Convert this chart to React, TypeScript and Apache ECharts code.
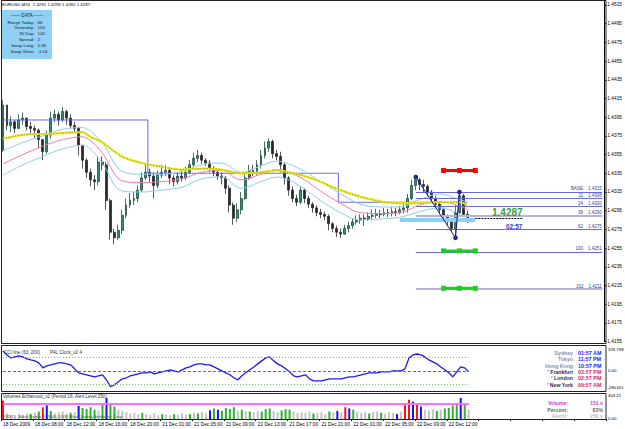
import React, { useEffect, useRef } from 'react';
import * as echarts from 'echarts';

// ---------- price data (EURUSD M15; one bar per 30 min slot) ----------
const firstOpen = 1.4360;
const closes = [
  1.4408, 1.4386, 1.4390, 1.4383, 1.4392, 1.4394, 1.4385, 1.4383, 1.4381, 1.4371,
  1.4358, 1.4376, 1.4394, 1.4398, 1.4392, 1.4401, 1.4394, 1.4386, 1.4383, 1.4365,
  1.4349, 1.4336, 1.4328, 1.4326, 1.4347, 1.4344, 1.4306, 1.4272, 1.4266, 1.4274,
  1.4290, 1.4301, 1.4306, 1.4308, 1.4317, 1.4330, 1.4336, 1.4332, 1.4322, 1.4333,
  1.4336, 1.4338, 1.4330, 1.4326, 1.4332, 1.4330, 1.4336, 1.4344, 1.4351, 1.4354,
  1.4349, 1.4346, 1.4340, 1.4336, 1.4332, 1.4330, 1.4319, 1.4301, 1.4287, 1.4296,
  1.4308, 1.4330, 1.4338, 1.4336, 1.4344, 1.4354, 1.4362, 1.4369, 1.4356, 1.4353,
  1.4344, 1.4330, 1.4317, 1.4308, 1.4304, 1.4317, 1.4308, 1.4302, 1.4298, 1.4293,
  1.4291, 1.4289, 1.4281, 1.4276, 1.4272, 1.4270, 1.4276, 1.4279, 1.4283, 1.4285,
  1.4287, 1.4286, 1.4289, 1.4290, 1.4292, 1.4291, 1.4293, 1.4292, 1.4294, 1.4293,
  1.4296, 1.4298, 1.4308, 1.4322, 1.4328, 1.4323, 1.4321, 1.4315, 1.4308, 1.4302,
  1.4296, 1.4289, 1.4283, 1.4276, 1.4293, 1.4311, 1.4291, 1.4287,
];
const highs = [
  1.4413, 1.4394, 1.4396, 1.4392, 1.4398, 1.4400, 1.4394, 1.4390, 1.4386, 1.4383,
  1.4371, 1.4381, 1.4401, 1.4403, 1.4401, 1.4406, 1.4403, 1.4398, 1.4390, 1.4385,
  1.4365, 1.4351, 1.4340, 1.4333, 1.4353, 1.4353, 1.4347, 1.4308, 1.4276, 1.4280,
  1.4296, 1.4308, 1.4314, 1.4315, 1.4322, 1.4336, 1.4344, 1.4340, 1.4336, 1.4338,
  1.4344, 1.4344, 1.4340, 1.4333, 1.4336, 1.4338, 1.4342, 1.4349, 1.4357, 1.4360,
  1.4357, 1.4351, 1.4349, 1.4343, 1.4338, 1.4336, 1.4332, 1.4322, 1.4304, 1.4303,
  1.4315, 1.4336, 1.4344, 1.4344, 1.4349, 1.4360, 1.4369, 1.4372, 1.4371, 1.4360,
  1.4358, 1.4346, 1.4332, 1.4321, 1.4312, 1.4321, 1.4319, 1.4311, 1.4304, 1.4301,
  1.4297, 1.4294, 1.4291, 1.4283, 1.4279, 1.4276, 1.4280, 1.4283, 1.4287, 1.4290,
  1.4291, 1.4291, 1.4293, 1.4296, 1.4297, 1.4296, 1.4298, 1.4297, 1.4299, 1.4298,
  1.4300, 1.4302, 1.4313, 1.4328, 1.4332, 1.4330, 1.4328, 1.4323, 1.4317, 1.4311,
  1.4304, 1.4298, 1.4291, 1.4287, 1.4301, 1.4316, 1.4313, 1.4295,
];
const lows = [
  1.4358, 1.4381, 1.4379, 1.4378, 1.4383, 1.4387, 1.4381, 1.4377, 1.4373, 1.4362,
  1.4349, 1.4356, 1.4372, 1.4390, 1.4386, 1.4390, 1.4387, 1.4383, 1.4379, 1.4354,
  1.4340, 1.4330, 1.4321, 1.4317, 1.4322, 1.4338, 1.4296, 1.4264, 1.4259, 1.4264,
  1.4270, 1.4287, 1.4298, 1.4301, 1.4304, 1.4315, 1.4328, 1.4326, 1.4308, 1.4319,
  1.4330, 1.4332, 1.4323, 1.4321, 1.4323, 1.4326, 1.4328, 1.4334, 1.4342, 1.4347,
  1.4345, 1.4343, 1.4336, 1.4332, 1.4328, 1.4323, 1.4313, 1.4293, 1.4280, 1.4283,
  1.4291, 1.4306, 1.4328, 1.4332, 1.4333, 1.4340, 1.4351, 1.4358, 1.4351, 1.4349,
  1.4336, 1.4323, 1.4311, 1.4304, 1.4300, 1.4302, 1.4303, 1.4298, 1.4293, 1.4289,
  1.4287, 1.4285, 1.4274, 1.4272, 1.4267, 1.4266, 1.4269, 1.4272, 1.4276, 1.4280,
  1.4281, 1.4279, 1.4284, 1.4285, 1.4287, 1.4287, 1.4289, 1.4288, 1.4289, 1.4289,
  1.4291, 1.4292, 1.4293, 1.4306, 1.4317, 1.4317, 1.4315, 1.4311, 1.4303, 1.4298,
  1.4291, 1.4285, 1.4279, 1.4272, 1.4266, 1.4291, 1.4289, 1.4282,
];

// moving averages / envelope, read at these bar indices
const maIdx = [0, 5, 10, 15, 20, 22, 25, 30, 35, 40, 45, 50, 55, 60, 65, 69, 72, 76, 80, 85, 90, 95, 100, 105, 110, 115, 117];
const maYellow = [1.4372, 1.4376, 1.4377, 1.4378, 1.4379, 1.4374, 1.4368, 1.4353, 1.4346, 1.4342, 1.4339, 1.4340, 1.4339, 1.4335, 1.4336, 1.4338, 1.4336, 1.4332, 1.4326, 1.4317, 1.4310, 1.4305, 1.4303, 1.4303, 1.4304, 1.4304, 1.4301];
const maPink = [1.4345, 1.4355, 1.4364, 1.4371, 1.4374, 1.4370, 1.4357, 1.4327, 1.4325, 1.4326, 1.4329, 1.4336, 1.4338, 1.4328, 1.4334, 1.4339, 1.4336, 1.4328, 1.4316, 1.4303, 1.4293, 1.4292, 1.4293, 1.4301, 1.4305, 1.4300, 1.4296];
const bandUpper = [1.4359, 1.4368, 1.4375, 1.4382, 1.4384, 1.4380, 1.4368, 1.4337, 1.4334, 1.4334, 1.4337, 1.4344, 1.4346, 1.4336, 1.4343, 1.4348, 1.4345, 1.4337, 1.4326, 1.4313, 1.4302, 1.4299, 1.4299, 1.4307, 1.4313, 1.4307, 1.4304];
const bandLower = [1.4333, 1.4344, 1.4353, 1.4361, 1.4365, 1.4361, 1.4346, 1.4316, 1.4315, 1.4317, 1.4320, 1.4329, 1.4331, 1.4319, 1.4326, 1.4331, 1.4328, 1.4318, 1.4306, 1.4293, 1.4285, 1.4286, 1.4288, 1.4294, 1.4298, 1.4292, 1.4287];

// daily range step line
const dayLevels = [1.4392, 1.4335, 1.4304];
const dayStarts = [0, 37, 85];

// zigzag & fibo
const zigIdx = [104, 114, 115];
const zigPrice = [1.4331, 1.4266, 1.4315];
const fibNames = ['BASE', '11', '24', '38', '62', '100', '162'];
const fibPrices = [1.4315, 1.4308, 1.4300, 1.4290, 1.4275, 1.4251, 1.4211];
const fibThick = [false, false, false, true, false, false, true];
const fibStart = 104;

// target markers
const targetIdx = [111, 115, 119];
const targetPrices = [1.4338, 1.4252, 1.4212];
const targetColors = ['#ff0000', '#22cc22', '#22cc22'];
const bandPrice = 1.4285;
const lastPrice = 1.4287;

// CCI
const cci = [
  297, 238, 193, 208, 223, 208, 178, 163, 149, 119,
  45, 74, 89, 104, 119, 119, 104, 89, 30, -30,
  -45, -59, -74, -89, -74, -59, -134, -238, -208, -163,
  -119, -104, -74, -59, -45, -30, -30, -15, -45, -30,
  -15, 0, 15, 0, -15, 15, 45, 59, 89, 104,
  104, 89, 89, 59, 30, 0, -30, -59, -104, -134,
  -74, -30, 15, 59, 104, 149, 193, 208, 149, 104,
  74, 30, -15, -74, -89, -74, -59, -119, -149, -149,
  -149, -134, -119, -119, -119, -119, -104, -89, -89, -74,
  -59, -45, -30, -30, -30, -15, -15, -15, 0, 0,
  0, 30, 193, 238, 252, 238, 208, 163, 134, 104,
  59, 15, -30, -89, -15, 59, 45, -15,
];
const cciMax = 326.798;
const cciMin = -286.651;
const cciLevels = [200, 0, -200];

// Volumes
const volumes = [
  300, 90, 70, 60, 80, 70, 90, 80, 100, 120,
  190, 220, 130, 100, 110, 120, 90, 100, 110, 210,
  180, 160, 190, 150, 140, 230, 340, 260, 200, 150,
  130, 110, 90, 100, 80, 100, 80, 70, 90, 60,
  80, 70, 60, 80, 70, 90, 70, 80, 100, 90,
  110, 90, 140, 170, 150, 130, 180, 160, 190, 140,
  150, 130, 120, 110, 130, 120, 160, 170, 130, 110,
  140, 160, 150, 120, 100, 110, 100, 120, 90, 100,
  110, 80, 120, 100, 130, 110, 190, 170, 150, 120,
  100, 110, 90, 110, 120, 100, 90, 110, 100, 80,
  120, 220, 310, 280, 250, 200, 150, 140, 160, 130,
  150, 170, 180, 220, 250, 340, 260, 150,
];
const volKinds = [
  'r', 's', 's', 's', 's', 's', 's', 'g', 's', 'g',
  'r', 'b', 'g', 's', 's', 's', 's', 'g', 's', 'b',
  'g', 'g', 'g', 'g', 's', 'g', 'b', 'g', 'g', 's',
  's', 's', 's', 's', 's', 'g', 's', 's', 's', 's',
  'g', 's', 's', 'g', 's', 's', 's', 'g', 's', 'g',
  's', 's', 'b', 'g', 'b', 'g', 'g', 'g', 'g', 's',
  'g', 's', 'g', 's', 's', 'g', 'g', 'g', 's', 's',
  'g', 'g', 'g', 's', 's', 's', 's', 's', 'g', 's',
  's', 's', 'g', 's', 'b', 's', 'r', 'b', 'g', 's',
  's', 's', 'g', 's', 's', 'g', 's', 's', 's', 'b',
  's', 'r', 'r', 'b', 'r', 'b', 's', 's', 's', 'g',
  's', 'g', 'g', 'g', 'g', 'b', 'g', 's',
];
const volMax = 403.21;
const volAlert = 250;

// time axis labels (every 8 slots)
const timeLabels = [
  '18 Dec 2009', '18 Dec 08:00', '18 Dec 12:00', '18 Dec 16:00', '18 Dec 20:00',
  '21 Dec 01:00', '21 Dec 05:00', '21 Dec 09:00', '21 Dec 13:00', '21 Dec 17:00',
  '21 Dec 21:00', '22 Dec 01:00', '22 Dec 05:00', '22 Dec 09:00', '22 Dec 12:00',
];
const labelStep = 8;
const TOTAL = 152;

// ---------- layout ----------
const FONT = '"Liberation Sans", Arial, sans-serif';
const MAIN = { left: 1, top: 0, width: 605, height: 341.6 };
const CCIG = { left: 1, top: 349, width: 605, height: 41 };
const VOLG = { left: 1, top: 394, width: 605, height: 25 };

const N = closes.length;
const cats = Array.from({ length: TOTAL }, (_, i) => String(i));
const timeCats = Array.from({ length: TOTAL }, (_, i) =>
  i % labelStep === 0 && timeLabels[i / labelStep] ? timeLabels[i / labelStep] : ''
);

const candleData = closes.map((c, i) => {
  const o = i === 0 ? firstOpen : closes[i - 1];
  return [o, c, Math.min(lows[i], o, c), Math.max(highs[i], o, c)];
});
const sparse = (vals: number[]) => {
  const a: (number | null)[] = new Array(N).fill(null);
  maIdx.forEach((ix, k) => (a[ix] = vals[k]));
  return a;
};
const dayLine = closes.map((_, i) => {
  let lv = dayLevels[0];
  dayStarts.forEach((s, k) => {
    if (i >= s) lv = dayLevels[k];
  });
  return lv;
});
const zigData: (number | null)[] = new Array(N).fill(null);
zigIdx.forEach((ix, k) => (zigData[ix] = zigPrice[k]));

const volColorMap: Record<string, string> = { s: '#c4c4c4', g: '#2fb02f', b: '#1010ff', r: '#ff1010' };

function txt(x: number, y: number, text: string, o: any = {}) {
  return {
    type: 'text',
    x,
    y,
    silent: true,
    z: 100,
    style: {
      text,
      fill: o.fill || '#000',
      fontSize: o.size || 5,
      fontFamily: FONT,
      fontWeight: o.bold ? 'bold' : 'normal',
      align: o.align || 'left',
      verticalAlign: 'middle',
    },
  };
}

function buildOption(): any {
  const series: any[] = [];

  series.push({
    type: 'candlestick',
    xAxisIndex: 0,
    yAxisIndex: 0,
    data: candleData,
    barWidth: 2.4,
    itemStyle: {
      color: '#2f8f80',
      color0: '#2b2b2b',
      borderColor: '#1e4a44',
      borderColor0: '#2b2b2b',
      borderWidth: 0.8,
    },
    markLine: {
      silent: true,
      symbol: ['none', 'none'],
      animation: false,
      data: [
        {
          yAxis: lastPrice,
          lineStyle: { opacity: 0 },
          label: {
            show: true,
            position: 'end',
            distance: 1,
            formatter: lastPrice.toFixed(4),
            backgroundColor: '#000',
            color: '#fff',
            fontSize: 5,
            fontFamily: FONT,
            padding: [1, 2, 1, 2],
          },
        },
      ],
    },
  });

  series.push({
    type: 'line',
    data: dayLine,
    step: 'middle',
    symbol: 'none',
    lineStyle: { color: '#6464f0', width: 1 },
    z: 3,
  });

  const maLine = (data: any, color: string, width: number, type: any = 'solid') => ({
    type: 'line',
    data,
    connectNulls: true,
    smooth: 0.35,
    symbol: 'none',
    lineStyle: { color, width, type },
    z: 4,
  });
  series.push(maLine(sparse(bandUpper), '#8ccdf5', 1));
  series.push(maLine(sparse(bandLower), '#8ccdf5', 1));
  series.push(maLine(sparse(maPink), '#f07aa8', 1));
  series.push(maLine(sparse(maYellow), '#eeea10', 2.2));
  series.push(maLine(sparse(maYellow), '#8a8a20', 1, [1, 2]));

  // zigzag + fibo lines
  series.push({
    type: 'line',
    data: zigData,
    connectNulls: true,
    symbol: 'emptyCircle',
    showAllSymbol: true,
    symbolSize: 2.6,
    lineStyle: { color: '#1c1c8a', width: 1 },
    itemStyle: { color: '#1c1c8a', borderWidth: 0.8 },
    z: 6,
    markLine: {
      silent: true,
      symbol: ['none', 'none'],
      animation: false,
      data: [
        ...fibPrices.map((p, k) => [
          {
            coord: [fibStart, p],
            lineStyle: {
              color: fibThick[k] ? '#b4b4dc' : '#6a6ad6',
              width: fibThick[k] ? 2 : 1,
              type: 'solid',
            },
            label: {
              show: true,
              position: 'insideEndTop',
              distance: 0.5,
              formatter: fibNames[k] + '    ' + p.toFixed(4),
              fontSize: 4.5,
              fontFamily: FONT,
              color: '#3a3a9a',
            },
          },
          { coord: [TOTAL - 1, p] },
        ]),
        [
          { coord: [100, bandPrice], lineStyle: { color: '#8ccff5', width: 4, type: 'solid' }, label: { show: false } },
          { coord: [119, bandPrice] },
        ],
        [
          { coord: [119, lastPrice], lineStyle: { color: '#000', width: 1, type: [2, 1] }, label: { show: false } },
          { coord: [131, lastPrice] },
        ],
      ],
    },
  });

  targetPrices.forEach((p, k) => {
    const d: (number | null)[] = new Array(targetIdx[targetIdx.length - 1] + 1).fill(null);
    targetIdx.forEach((ix) => (d[ix] = p));
    series.push({
      type: 'line',
      data: d,
      connectNulls: true,
      symbol: 'rect',
      showAllSymbol: true,
      symbolSize: [5, 5],
      lineStyle: { color: targetColors[k], width: 3 },
      itemStyle: { color: targetColors[k] },
      z: 7,
    });
  });

  // CCI
  series.push({
    type: 'line',
    xAxisIndex: 1,
    yAxisIndex: 1,
    data: cci,
    symbol: 'none',
    lineStyle: { color: '#1a1aff', width: 1.3 },
    markLine: {
      silent: true,
      symbol: ['none', 'none'],
      animation: false,
      label: { show: false },
      data: cciLevels.map((lv, k) => [
        {
          coord: [0, lv],
          lineStyle: {
            color: k === 0 ? '#e07a7a' : k === 1 ? '#5c5ce0' : '#5cc85c',
            width: 1,
            type: k === 1 ? [3, 2] : [1, 2],
          },
        },
        { coord: [N - 1, lv] },
      ]),
    },
  });

  // Volumes
  series.push({
    type: 'bar',
    xAxisIndex: 2,
    yAxisIndex: 2,
    barWidth: 2,
    data: volumes.map((v, i) => ({ value: v, itemStyle: { color: volColorMap[volKinds[i]] } })),
    markLine: {
      silent: true,
      symbol: ['none', 'none'],
      animation: false,
      label: { show: false },
      data: [[{ coord: [0, volAlert], lineStyle: { color: '#ff6cff', width: 2, type: 'solid' } }, { coord: [N - 1, volAlert] }]],
    },
  });

  const hiddenX = (gi: number, data: string[]) => ({
    type: 'category',
    gridIndex: gi,
    data,
    boundaryGap: true,
    axisLine: { show: false },
    axisTick: { show: false },
    axisLabel: { show: false },
    splitLine: { show: false },
  });

  const graphic: any[] = [];
  // panel frames
  const frame = (y0: number, y1: number) => ({
    type: 'rect',
    silent: true,
    z: 90,
    shape: { x: 1.5, y: y0 + 0.5, width: 604.5, height: y1 - y0 },
    style: { fill: 'none', stroke: '#222', lineWidth: 1 },
  });
  graphic.push(frame(0, 343));
  graphic.push(frame(345, 391));
  graphic.push(frame(393, 419));

  // title
  graphic.push(txt(2, 4.5, 'EURUSD,M15  1.4291 1.4295 1.4282 1.4287', { size: 4.4 }));
  // data box
  graphic.push({
    type: 'rect',
    silent: true,
    z: 95,
    shape: { x: 2, y: 10, width: 50, height: 49 },
    style: { fill: '#8fd1f2' },
  });
  graphic.push(txt(27, 15.5, '------ DATA ------', { size: 4.6, align: 'center', fill: '#1a1a3a' }));
  const dataRows = [
    ['Range Today:', '66'],
    ['Yesterday:', '105'],
    ['30 Day:', '142'],
    ['Spread:', '2'],
    ['Swap Long:', '0.08'],
    ['Swap Short:', '-1.04'],
  ];
  dataRows.forEach((r, k) => {
    graphic.push(txt(34.5, 22 + k * 5.85, r[0], { size: 4.4, align: 'right', fill: '#1a1a3a' }));
    graphic.push(txt(37.5, 22 + k * 5.85, r[1], { size: 4.4, fill: '#1a1a3a' }));
  });

  // price flag and timer
  graphic.push(txt(492, 212.5, lastPrice.toFixed(4), { size: 10, bold: true, fill: '#3a9a3a' }));
  graphic.push(txt(506, 226, '02:57', { size: 6.4, bold: true, fill: '#3636c8' }));

  // CCI panel texts
  graphic.push(txt(4, 352, 'CCI line (63, 200)', { size: 4.6, fill: '#333' }));
  graphic.push(txt(50, 352, 'P4L Clock_v2.4', { size: 4.6, fill: '#333' }));
  const cciY = (v: number) => CCIG.top + ((cciMax - v) / (cciMax - cciMin)) * CCIG.height;
  graphic.push(txt(608, cciY(cciMax), cciMax.toFixed(3), { size: 4.3 }));
  graphic.push(txt(608, cciY(0), '0.00', { size: 4.3 }));
  graphic.push(txt(607.5, cciY(cciMin) - 3, cciMin.toFixed(3), { size: 4.1 }));

  const cities = ['Sydney', 'Tokyo', 'Hong Kong', "' Frankfurt", "' London", "' New York"];
  const cityTimes = ['01:57 AM', '11:57 PM', '10:57 PM', '03:57 PM', '02:57 PM', '09:57 AM'];
  cities.forEach((c, k) => {
    const y = 353 + k * 6.3;
    const open = k >= 3;
    graphic.push(txt(573, y, c, { size: 5.2, bold: true, align: 'right', fill: open ? '#2a2a5a' : '#8290a8' }));
    graphic.push(txt(578, y, cityTimes[k], { size: 5.4, bold: true, fill: open ? '#e0245e' : '#1a1aff' }));
  });

  // Volume panel texts
  graphic.push(txt(3, 396.5, 'Volumes Enhanced_v2 (Period 18, Alert Level 250)', { size: 4.6, fill: '#333' }));
  graphic.push(txt(3, 416, 'P4DC - MetaTrader \u00a9 2005-2009 MetaQuotes Software Corp.', { size: 4.4, fill: '#555' }));
  const volRows = [
    ['Volume:', '151 v', '#c33ccf'],
    ['Percent:', '83%', '#6a6a6a'],
    ['AlertV:', '250 v', '#bdbdbd'],
  ];
  volRows.forEach((r, k) => {
    const y = 403 + k * 6.5;
    graphic.push(txt(568, y, r[0], { size: 5.2, bold: true, align: 'right', fill: r[2] }));
    graphic.push(txt(603, y, r[1], { size: 5.2, bold: true, align: 'right', fill: r[2] }));
  });
  graphic.push(txt(608, VOLG.top + 1, volMax.toFixed(2), { size: 4.3 }));
  graphic.push(txt(608, VOLG.top + VOLG.height - 1, '0.00', { size: 4.3 }));

  return {
    animation: false,
    backgroundColor: '#ffffff',
    grid: [
      { ...MAIN, containLabel: false },
      { ...CCIG, containLabel: false },
      { ...VOLG, containLabel: false },
    ],
    xAxis: [
      hiddenX(0, cats),
      hiddenX(1, cats),
      {
        type: 'category',
        gridIndex: 2,
        data: timeCats,
        boundaryGap: true,
        axisLine: { show: false },
        axisTick: {
          show: true,
          length: 2,
          interval: (i: number) => i % labelStep === 0,
          lineStyle: { color: '#000' },
        },
        axisLabel: {
          show: true,
          interval: 0,
          align: 'left',
          margin: 3,
          fontSize: 4.8,
          fontFamily: FONT,
          color: '#000',
        },
        splitLine: { show: false },
      },
    ],
    yAxis: [
      {
        type: 'value',
        gridIndex: 0,
        position: 'right',
        min: 1.4155,
        max: 1.45203,
        interval: 0.002,
        axisLine: { show: true, lineStyle: { color: '#000' } },
        axisTick: { show: true, length: 2, lineStyle: { color: '#000' } },
        axisLabel: {
          show: true,
          margin: 3,
          fontSize: 4.8,
          fontFamily: FONT,
          color: '#000',
          showMaxLabel: false,
          formatter: (v: number) => v.toFixed(4),
        },
        splitLine: { show: false },
      },
      {
        type: 'value',
        gridIndex: 1,
        position: 'right',
        min: cciMin,
        max: cciMax,
        axisLine: { show: false },
        axisTick: { show: false },
        axisLabel: { show: false },
        splitLine: { show: false },
      },
      {
        type: 'value',
        gridIndex: 2,
        position: 'right',
        min: 0,
        max: volMax,
        axisLine: { show: false },
        axisTick: { show: false },
        axisLabel: { show: false },
        splitLine: { show: false },
      },
    ],
    series,
    graphic,
  };
}

export default function App() {
  const ref = useRef<HTMLDivElement>(null);
  useEffect(() => {
    const chart = echarts.init(ref.current!, null, { renderer: 'svg' });
    chart.setOption(buildOption());
    return () => chart.dispose();
  }, []);
  return (
    <div
      ref={ref}
      style={{ position: 'absolute', left: 0, top: 0, width: 625, height: 429, background: '#fff' }}
    />
  );
}
